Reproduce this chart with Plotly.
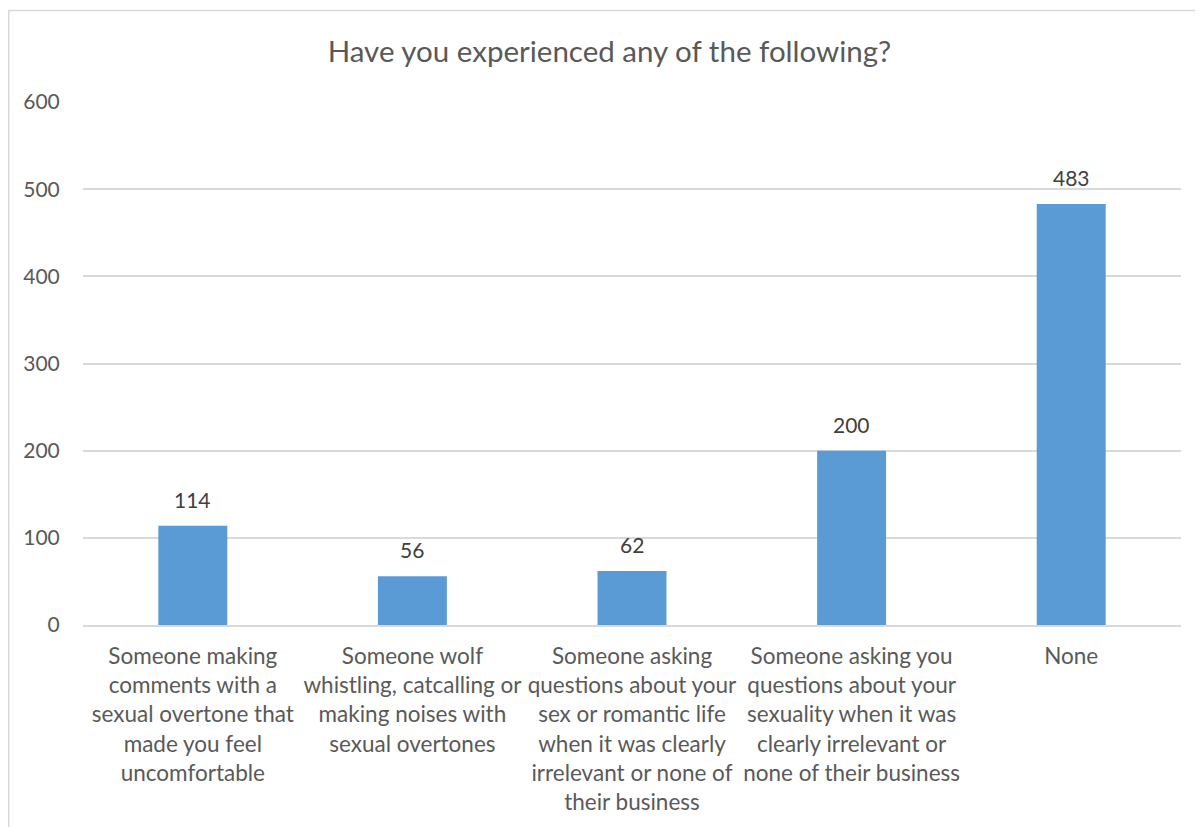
import plotly.graph_objects as go

categories = [
    "Someone making<br>comments with a<br>sexual overtone that<br>made you feel<br>uncomfortable",
    "Someone wolf<br>whistling, catcalling or<br>making noises with<br>sexual overtones",
    "Someone asking<br>questions about your<br>sex or romantic life<br>when it was clearly<br>irrelevant or none of<br>their business",
    "Someone asking you<br>questions about your<br>sexuality when it was<br>clearly irrelevant or<br>none of their business",
    "None",
]
keys = ["c1", "c2", "c3", "c4", "c5"]
values = [114, 56, 62, 200, 483]
title_text = "Have you experienced any of the following?"

FONT = "Lato"
GREY = "#595959"

fig = go.Figure()
fig.add_trace(go.Bar(
    x=keys, y=values,
    marker=dict(color="#5B9BD5", line=dict(width=0)),
    hoverinfo="x+y",
))

for k, v in zip(keys, values):
    fig.add_annotation(
        x=k, y=v, text=str(v), showarrow=False,
        yanchor="bottom", yshift=12,
        font=dict(family=FONT, size=21, color="#404040"),
    )

fig.add_shape(
    type="rect", xref="paper", yref="paper",
    x0=-0.0676, x1=1.2, y0=-0.6, y1=1.175,
    line=dict(color="#D9D9D9", width=1.5), fillcolor="rgba(0,0,0,0)",
    layer="below",
)

fig.update_layout(
    width=1203, height=827,
    margin=dict(l=75, r=30, t=94, b=209.5),
    paper_bgcolor="white", plot_bgcolor="white",
    bargap=0.686,
    showlegend=False,
    title=dict(
        text=title_text, xref="container", x=0.5, xanchor="center",
        yref="container", y=0.947, yanchor="middle",
        font=dict(family=FONT, size=29.5, color=GREY),
    ),
    xaxis=dict(
        tickmode="array", tickvals=keys, ticktext=categories,
        showgrid=False, showline=True, linecolor="#D9D9D9", linewidth=1.5,
        ticks="outside", ticklen=10, tickcolor="rgba(0,0,0,0)",
        tickfont=dict(family=FONT, size=22.5, color=GREY),
        tickangle=0, automargin=False,
    ),
    yaxis=dict(
        range=[0, 600], tickmode="linear", tick0=0, dtick=100,
        showgrid=True, gridcolor="#D9D9D9", gridwidth=1.5,
        zeroline=False, showline=False,
        ticks="outside", ticklen=18, tickcolor="rgba(0,0,0,0)",
        tickfont=dict(family=FONT, size=21, color=GREY),
        automargin=False,
    ),
)

fig.write_html("out.html")
